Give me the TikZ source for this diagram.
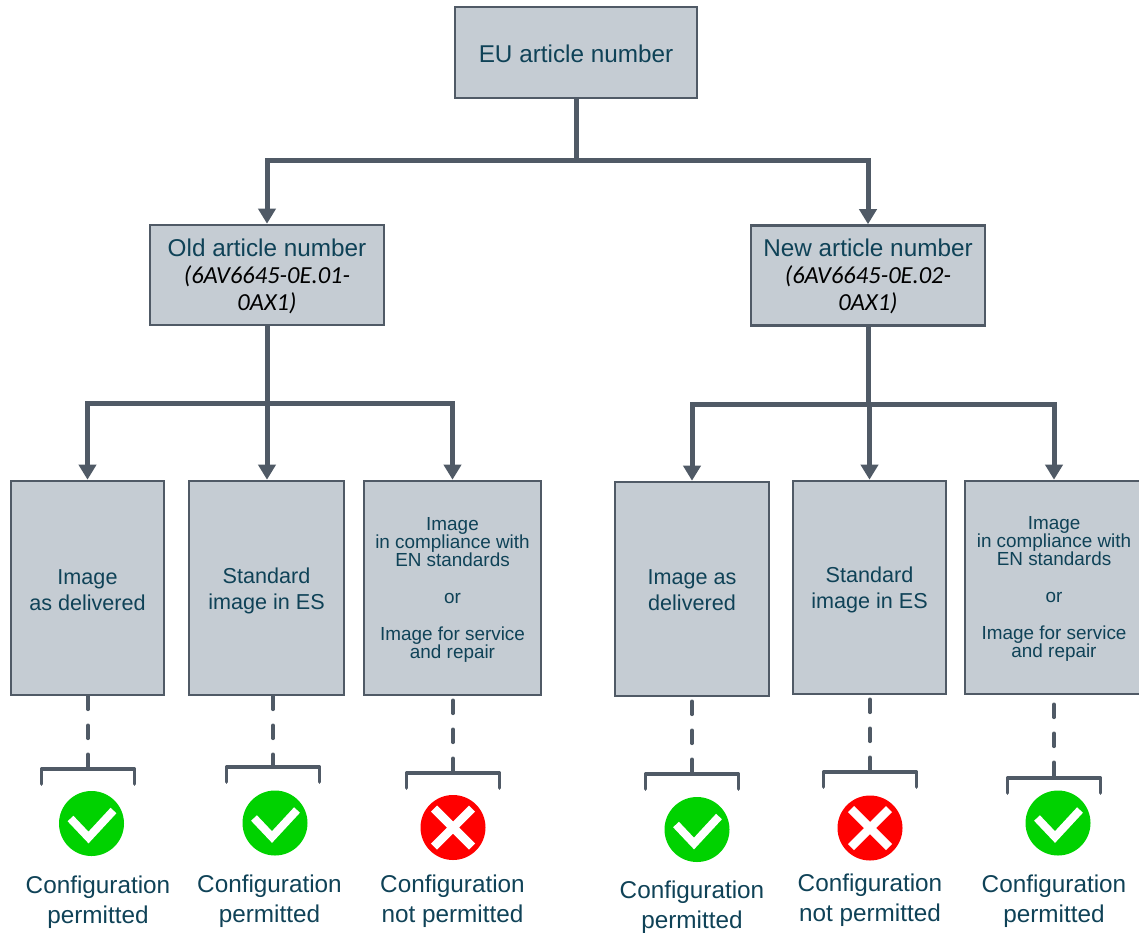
\documentclass[tikz,border=0pt]{standalone}
\usepackage{fontspec}
\setmainfont{Liberation Sans}
\newfontfamily\codefont{Carlito}
\usetikzlibrary{arrows.meta}
\definecolor{boxfill}{HTML}{C5CCD3}
\definecolor{edgecol}{HTML}{505A66}
\definecolor{txtcol}{HTML}{0F4257}
\definecolor{okgreen}{HTML}{00D200}
\definecolor{nored}{HTML}{FF0000}
\tikzset{
  basebox/.style={draw=edgecol,fill=boxfill,line width=2.6pt,text=txtcol,align=center,inner sep=0pt,anchor=center},
  wide/.style={basebox,font=\fontsize{24.3}{29}\selectfont},
  tall/.style={basebox,font=\fontsize{21.6}{26}\selectfont},
  dense/.style={basebox,font=\fontsize{18.9}{18}\selectfont},
  conn/.style={draw=edgecol,line width=5pt},
  arrowconn/.style={conn,-{Triangle[width=17pt,length=15pt]}},
  dashconn/.style={draw=edgecol,line width=3.6pt,line cap=round,dash pattern=on 13pt off 16pt},
  bracketline/.style={draw=edgecol,line width=3.6pt,line cap=round,line join=round},
  yesdot/.style={circle,fill=okgreen,minimum size=65pt,inner sep=0pt},
  nodot/.style={circle,fill=nored,minimum size=65pt,inner sep=0pt},
  markline/.style={draw=white,line width=8pt,line join=miter},
  caption/.style={text=txtcol,align=center,inner sep=0pt,font=\fontsize{24.3}{30}\selectfont}
}
\newcommand{\topgap}[1]{\rule{0pt}{\dimexpr0.73em+#1\relax}}
\newcommand{\codeline}[1]{{\codefont\itshape\color{black}\fontsize{24.5}{27}\selectfont #1}}
\newcommand{\bracketat}[1]{\draw[bracketline] (#1) ++(-46.5,15) -- ++(0,-15) -- ++(93,0) -- ++(0,15);}
\newcommand{\checkin}[1]{\draw[markline] (#1) ++(-21,-5) -- ++(18,19) -- ++(25,-27);}
\newcommand{\crossin}[1]{\draw[markline,line width=8.5pt] (#1) ++(-19,-19) -- ++(38,38) (#1) ++(19,-19) -- ++(-38,38);}
\begin{document}
\begin{tikzpicture}[x=1pt,y=-1pt]
\useasboundingbox (0,0) rectangle (1139,932);
% boxes
\node[wide,minimum width=242pt,minimum height=91pt] (eu) at (576,52.5) {\topgap{2pt}EU article number};
\node[wide,minimum width=234pt,minimum height=100pt,font=\fontsize{24.3}{27}\selectfont] (old) at (267,275) {\topgap{2pt}Old article number\\\codeline{(6AV6645-0E.01-}\\\codeline{0AX1)}};
\node[wide,minimum width=234pt,minimum height=100pt,font=\fontsize{24.3}{27}\selectfont] (new) at (868,275.5) {\topgap{2pt}New article number\\\codeline{(6AV6645-0E.02-}\\\codeline{0AX1)}};
\node[tall,minimum width=153pt,minimum height=214pt] (b1) at (87.5,588) {\topgap{4pt}Image\\as delivered};
\node[tall,minimum width=155pt,minimum height=214pt] (b2) at (266.5,588) {\topgap{6pt}Standard\\image in ES};
\node[dense,minimum width=177pt,minimum height=214pt] (b3) at (452.5,588) {\topgap{4pt}Image\\in compliance with\\EN standards\\[19pt]or\\[19pt]Image for service\\and repair};
\node[tall,minimum width=154pt,minimum height=214pt] (b4) at (692,589) {\topgap{2pt}Image as\\delivered};
\node[tall,minimum width=153pt,minimum height=213pt] (b5) at (869.5,587.5) {\topgap{5pt}Standard\\image in ES};
\node[dense,minimum width=178pt,minimum height=213pt] (b6) at (1054,587.5) {\topgap{3pt}Image\\in compliance with\\EN standards\\[19pt]or\\[19pt]Image for service\\and repair};
% buses
\coordinate (eubus) at (576,160);
\coordinate (oldbus) at (267,403);
\coordinate (newbus) at (868,404);
\coordinate (newmid) at (869.5,404);
\draw[conn] (eu.south) -- (eubus);
\draw[arrowconn] (eubus) -| (old.north);
\draw[arrowconn] (eubus) -| (new.north);
\draw[conn] (old.south) -- (oldbus);
\draw[arrowconn] (oldbus) -| (b1.north);
\draw[arrowconn] (oldbus) -- (oldbus |- b2.north);
\draw[arrowconn] (oldbus) -| (b3.north);
\draw[conn] (new.south) -- (newbus);
\draw[arrowconn] (newbus) -| (b4.north);
\draw[arrowconn] (newmid) -- (b5.north);
\draw[arrowconn] (newbus) -| (b6.north);
% brackets
\coordinate (br1) at (88,769);
\coordinate (br2) at (273,767);
\coordinate (br3) at (453,773);
\coordinate (br4) at (692,774);
\coordinate (br5) at (870,772);
\coordinate (br6) at (1054,778);
\draw[dashconn] (b1.south -| br1) -- (br1);
\draw[dashconn] (b2.south -| br2) -- (br2);
\draw[dashconn,shorten <=4pt] (b3.south -| br3) -- (br3);
\draw[dashconn,shorten <=4pt] (b4.south -| br4) -- (br4);
\draw[dashconn,shorten <=4pt] (b5.south -| br5) -- (br5);
\draw[dashconn,shorten <=9pt] (b6.south -| br6) -- (br6);
\bracketat{br1}\bracketat{br2}\bracketat{br3}\bracketat{br4}\bracketat{br5}\bracketat{br6}
% icons
\node[yesdot] (i1) at (91.5,823.5) {};
\node[yesdot] (i2) at (275,823) {};
\node[nodot] (i3) at (453,827.5) {};
\node[yesdot] (i4) at (697,829.5) {};
\node[nodot] (i5) at (870,828) {};
\node[yesdot] (i6) at (1058,823) {};
\checkin{i1}\checkin{i2}\crossin{i3}\checkin{i4}\crossin{i5}\checkin{i6}
% captions
\node[caption] (c1) at (98,902) {Configuration\\permitted};
\node[caption] (c2) at (269.5,901) {Configuration\\permitted};
\node[caption] (c3) at (452.5,901) {Configuration\\not permitted};
\node[caption] (c4) at (692,907) {Configuration\\permitted};
\node[caption] (c5) at (870,900.5) {Configuration\\not permitted};
\node[caption] (c6) at (1054,901) {Configuration\\permitted};
\end{tikzpicture}
\end{document}
